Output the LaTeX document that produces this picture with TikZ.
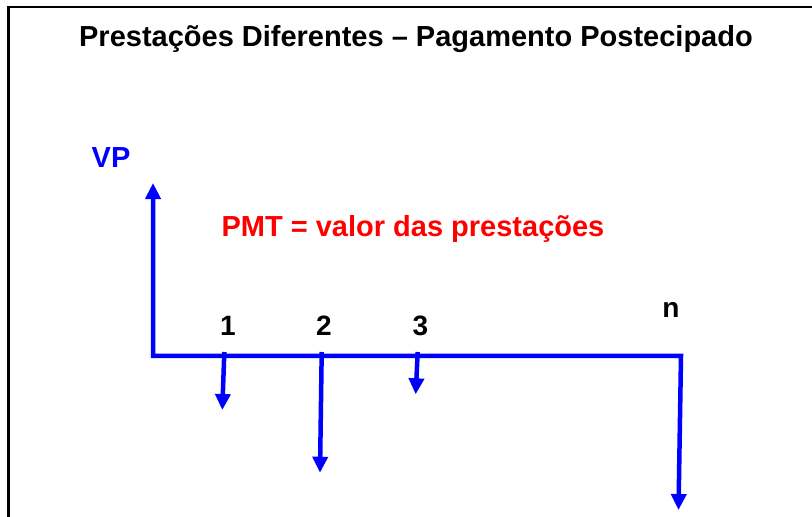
\documentclass[tikz,border=0pt]{standalone}
\usepackage{fontspec}
\setmainfont{Liberation Sans}
\usetikzlibrary{arrows.meta}
\definecolor{pblue}{RGB}{0,0,255}
\definecolor{pred}{RGB}{255,0,0}
\begin{document}
\begin{tikzpicture}[x=1pt,y=-1pt,
  lbl/.style={font=\fontsize{29}{34}\selectfont\bfseries, inner sep=0pt, anchor=base},
  num/.style={font=\fontsize{28}{33}\selectfont\bfseries, inner sep=0pt, anchor=base},
  tipA/.tip={Triangle[width=15pt,length=16pt]},
  flow/.style={pblue, line width=4.5pt, line join=miter, -tipA},
  frame/.style={black, line width=2.5pt, line join=miter}]
\useasboundingbox (0,0) rectangle (812,517);
% frame
\coordinate (fb) at (8.7,517);
\coordinate (fc) at (8.7,7);
\coordinate (fr) at (812,7);
\draw[frame] (fb) -- (fc) -- (fr);
% title
\node[lbl] (title) at (416,46) {Prestações Diferentes – Pagamento Postecipado};
\node[lbl, text=pblue] (vp) at (111,167) {VP};
\node[lbl, text=pred] (pmt) at (413,236) {PMT = valor das prestações};
% labels
\node[num] (l1) at (228,335) {1};
\node[num] (l2) at (324,335) {2};
\node[num] (l3) at (420.5,335) {3};
\node[num] (ln) at (671,317) {n};
% axis with VP and n arrows
\coordinate (vptip) at (153,183);
\coordinate (o) at (153,355.8);
\coordinate (e) at (681,355.8);
\coordinate (ntip) at (678.5,510);
\draw[flow, tipA-tipA] (vptip) -- (o) -- (e) -- (ntip);
% payments
\coordinate (p1) at (224.3,352);
\coordinate (t1) at (222.3,410);
\coordinate (p2) at (321.7,352);
\coordinate (t2) at (320,472.7);
\coordinate (p3) at (417.7,352);
\coordinate (t3) at (415.7,394.3);
\draw[flow] (p1) -- (t1);
\draw[flow] (p2) -- (t2);
\draw[flow] (p3) -- (t3);
\end{tikzpicture}
\end{document}
